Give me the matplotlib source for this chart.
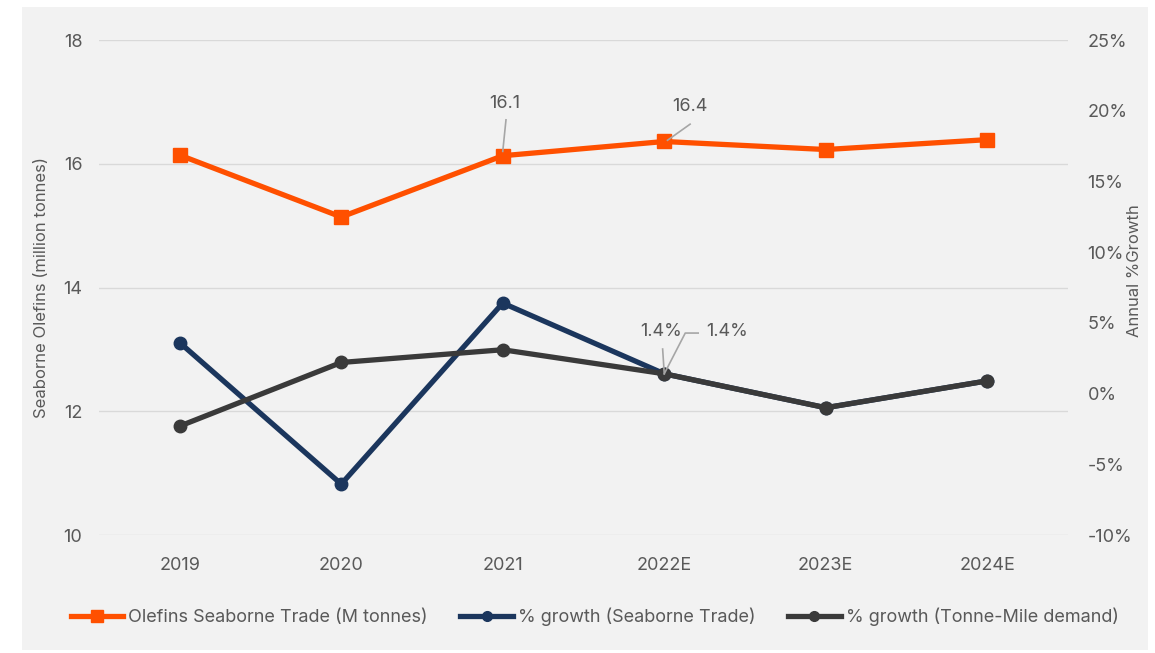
import matplotlib.pyplot as plt
from matplotlib.patches import Rectangle
from matplotlib.lines import Line2D

# data
years = ['2019', '2020', '2021', '2022E', '2023E', '2024E']
trade = [16.14, 15.14, 16.13, 16.36, 16.23, 16.39]          # M tonnes
growth_trade = [3.6, -6.4, 6.4, 1.4, -1.0, 0.9]            # %
growth_tm = [-2.3, 2.2, 3.1, 1.4, -1.0, 0.9]               # %

orange = '#ff5000'
navy = '#1b365d'
dark = '#3a3a3a'
txt = '#595959'

plt.rcParams['font.family'] = ['Inter', 'DejaVu Sans']

fig = plt.figure(figsize=(11.55, 6.53), dpi=100)
fig.patches.append(Rectangle((0.019, 0.005), 0.975, 0.984, transform=fig.transFigure,
                             facecolor='#f2f2f2', edgecolor='none', zorder=-10))

ax = fig.add_axes([0.0857, 0.1807, 0.839, 0.758])
ax.set_facecolor('none')
ax2 = ax.twinx()
ax2.set_facecolor('none')

x = list(range(len(years)))

ax.plot(x, trade, color=orange, lw=3.8, marker='s', markersize=10, zorder=5)
ax2.plot(x, growth_trade, color=navy, lw=3.8, marker='o', markersize=9, zorder=4)
ax2.plot(x, growth_tm, color=dark, lw=3.8, marker='o', markersize=9, zorder=5)

ax.set_xlim(-0.5, 5.5)
ax.set_ylim(10, 18)
ax.set_yticks([10, 12, 14, 16, 18])
ax2.set_ylim(-10, 25)
ax2.set_yticks(range(-10, 30, 5))
ax2.set_yticklabels([f'{v}%' for v in range(-10, 30, 5)])
ax.set_xticks(x)
ax.set_xticklabels(years)
ax.grid(axis='y', color='#d9d9d9', lw=1)
ax.set_axisbelow(True)

for a in (ax, ax2):
    for s in a.spines.values():
        s.set_visible(False)
    a.tick_params(length=0, colors=txt, labelsize=13)
ax.tick_params(axis='y', pad=12)
ax.tick_params(axis='x', pad=16)
ax2.tick_params(axis='y', pad=14)

ax.set_ylabel('Seaborne Olefins (million tonnes)', color=txt, fontsize=12)
ax.yaxis.set_label_coords(-0.052, 0.5)
ax2.set_ylabel('Annual %Growth', color=txt, fontsize=12)
ax2.yaxis.set_label_coords(1.061, 0.535)

# data labels with leader lines
lc = '#a6a6a6'
ax.text(2.01, 16.98, '16.1', fontsize=13, color=txt, ha='center', va='center')
ax.plot([2.02, 2.0], [16.71, 16.2], color=lc, lw=1.2, zorder=6)
ax.text(3.16, 16.92, '16.4', fontsize=13, color=txt, ha='center', va='center')
ax.plot([3.16, 3.02], [16.64, 16.38], color=lc, lw=1.2, zorder=6)
ax2.text(2.98, 4.4, '1.4%', fontsize=13, color=txt, ha='center', va='center')
ax2.text(3.39, 4.4, '1.4%', fontsize=13, color=txt, ha='center', va='center')
ax2.plot([2.99, 3.0], [3.15, 1.4], color=lc, lw=1.2, zorder=6)
ax2.plot([3.0, 3.13, 3.21], [1.4, 4.28, 4.28], color=lc, lw=1.2, zorder=6)

handles = [
    Line2D([], [], color=orange, lw=3.8, marker='s', markersize=8),
    Line2D([], [], color=navy, lw=3.8, marker='o', markersize=7),
    Line2D([], [], color=dark, lw=3.8, marker='o', markersize=7),
]
labels = ['Olefins Seaborne Trade (M tonnes)', '% growth (Seaborne Trade)',
          '% growth (Tonne-Mile demand)']
fig.legend(handles, labels, loc='center', bbox_to_anchor=(0.515, 0.055), ncol=3,
           frameon=False, fontsize=13, labelcolor=txt, handlelength=2.9,
           handletextpad=0.3, columnspacing=1.8)

fig.savefig('out.png', dpi=100)
